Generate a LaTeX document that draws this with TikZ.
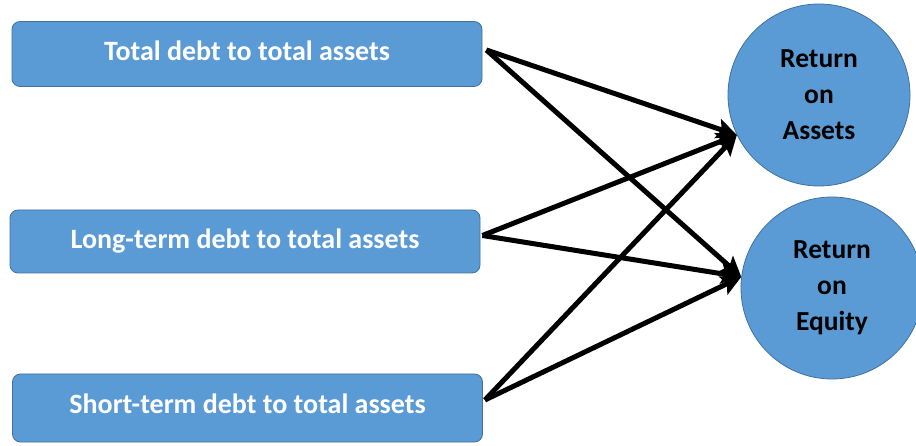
\documentclass[tikz,border=0pt]{standalone}
\usepackage{fontspec}
\setmainfont{Carlito}
\usetikzlibrary{arrows.meta}
\definecolor{boxblue}{HTML}{5B9BD5}
\definecolor{edgeblue}{HTML}{41719C}
\tikzset{
  ratiobox/.style={draw=edgeblue, fill=boxblue, rounded corners=8pt, line width=0.8pt,
    minimum width=470pt, inner sep=0pt, text=white, font=\fontsize{28}{30}\selectfont\bfseries},
  ratiocirc/.style={circle, draw=edgeblue, fill=boxblue, line width=0.8pt, minimum size=182pt,
    inner sep=0pt, align=center, font=\fontsize{27.5}{36}\selectfont\bfseries},
  link/.style={line width=5pt, -{Stealth[length=20pt,width=20pt,inset=4pt]}}
}
\begin{document}
\begin{tikzpicture}[x=1pt,y=-1pt]
\useasboundingbox (0,0) rectangle (916,446);
\node[ratiobox, minimum height=65pt] (b1) at (247,54) {\raisebox{7pt}{Total debt to total assets}};
\node[ratiobox, minimum height=63pt] (b2) at (245,241.5) {\raisebox{6pt}{Long-term debt to total assets}};
\node[ratiobox, minimum height=68pt] (b3) at (247.5,408) {\raisebox{8pt}{Short-term debt to total assets}};
\node[ratiocirc] (roa) at (819,95) {Return\\on\\Assets};
\node[ratiocirc] (roe) at (832,288) {Return\\on\\Equity};
\coordinate (s1) at ([shift={(4,-4)}]b1.east);
\coordinate (s2) at ([shift={(2,-6)}]b2.east);
\coordinate (s3) at ([shift={(2,-8)}]b3.east);
\coordinate (ta) at (roa.206);
\coordinate (te) at (roe.173);
\draw[link] (s1) -- (ta);
\draw[link] (s1) -- (te);
\draw[link] (s2) -- (ta);
\draw[link] (s2) -- (te);
\draw[link] (s3) -- (ta);
\draw[link] (s3) -- (te);
\end{tikzpicture}
\end{document}
